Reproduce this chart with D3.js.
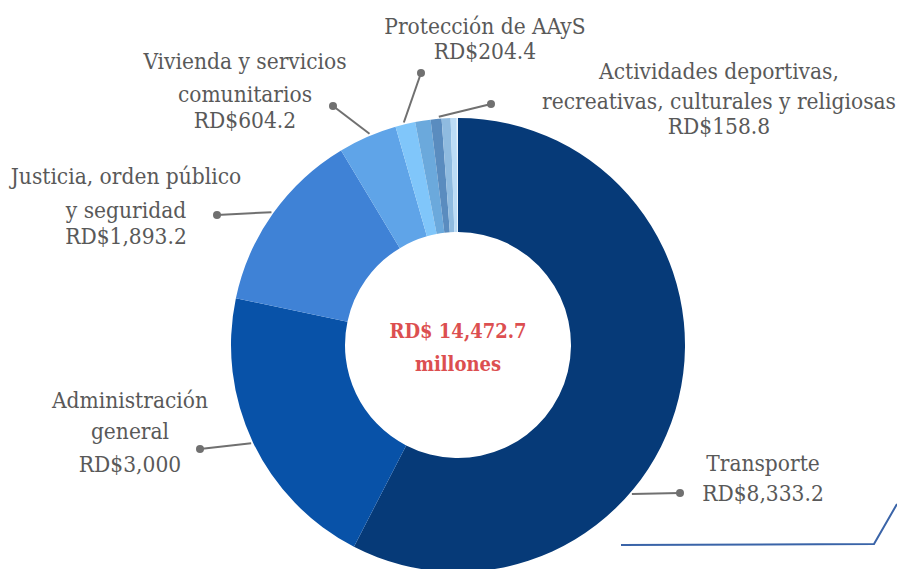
<!DOCTYPE html>
<html>
<head>
<meta charset="utf-8">
<script src="https://cdn.jsdelivr.net/npm/d3@7"></script>
<style>
  body { margin: 0; background: #fff; }
  svg { display: block; }
  .lbl { font-family: "DejaVu Serif Condensed", "DejaVu Serif", serif; font-size: 22.5px; fill: #595959; }
  .total { font-family: "DejaVu Serif Condensed", "DejaVu Serif", serif; font-size: 20px; font-weight: bold; fill: #dc4f50; }
</style>
</head>
<body>
<svg id="chart" width="897" height="569"></svg>
<script>
// slices, clockwise from 12 o'clock
let names = ['Transporte', 'Administración general', 'Justicia, orden público y seguridad',
    'Vivienda y servicios comunitarios', 'Protección de AAyS',
    'Actividades deportivas, recreativas, culturales y religiosas', 'Otro 1', 'Otro 2', 'Otro 3', 'Otro 4'];
let values = [8333.2, 3000, 1893.2, 604.2, 204.4, 158.8, 112, 92, 62, 12.9];
let colors = ['#063a78', '#0852a8', '#3f82d6', '#5fa4e8', '#80c6fa', '#6ba9dc', '#5a8cbf', '#8fbbe0', '#bcdcf6', '#e8f3fc'];
let totalLabel = ['RD$ 14,472.7', 'millones'];

// label text, line by line
let labelLines = [
    ['Transporte', 'RD$8,333.2'],
    ['Administración', 'general', 'RD$3,000'],
    ['Justicia, orden público', 'y seguridad', 'RD$1,893.2'],
    ['Vivienda y servicios', 'comunitarios', 'RD$604.2'],
    ['Protección de AAyS', 'RD$204.4'],
    ['Actividades deportivas,', 'recreativas, culturales y religiosas', 'RD$158.8']
];

function init() {
    let svg = d3.select('#chart');
    let cx = 458, cy = 345;
    let outer = 227, inner = 113;

    let pie = d3.pie().sort(null).value(d => d);
    let arcs = pie(values);
    let arc = d3.arc().innerRadius(inner).outerRadius(outer);

    let g = svg.append('g').attr('transform', `translate(${cx}, ${cy})`);
    g.selectAll('path').data(arcs).join('path')
        .attr('d', arc)
        .style('fill', (d, i) => colors[i]);

    // label layout: text centre x, baseline of each line, dot position, spot on the slice
    let layout = [
        { x: 763, ys: [471, 501], dot: [680, 493], t: 0.63 },
        { x: 130, ys: [408, 439, 472], dot: [200, 449], t: 0.5 },
        { x: 126, ys: [184, 218, 244], dot: [217, 215], t: 0.5 },
        { x: 245, ys: [69, 102, 128], dot: [333, 106], t: 0.55 },
        { x: 485, ys: [34, 59], dot: [421, 73], t: 0.45 },
        { x: 719, ys: [79, 109, 134], dot: [491, 104], t: 1.54 }
    ];

    let line = d3.line();
    layout.forEach((L, i) => {
        let a = arcs[i];
        let ang = a.startAngle + L.t * (a.endAngle - a.startAngle);
        let r = outer + 2;
        let p = [cx + r * Math.sin(ang), cy - r * Math.cos(ang)];
        svg.append('path')
            .attr('d', line([p, L.dot]))
            .attr('fill', 'none')
            .attr('stroke', '#707070')
            .attr('stroke-width', 2);
        svg.append('circle')
            .attr('cx', L.dot[0])
            .attr('cy', L.dot[1])
            .attr('r', 4)
            .style('fill', '#707070');
        svg.append('g').selectAll('text').data(labelLines[i]).join('text')
            .attr('class', 'lbl')
            .attr('x', L.x)
            .attr('y', (d, j) => L.ys[j])
            .attr('text-anchor', 'middle')
            .text(d => d);
    });

    svg.append('g').selectAll('text').data(totalLabel).join('text')
        .attr('class', 'total')
        .attr('x', cx)
        .attr('y', (d, j) => 338 + j * 33)
        .attr('text-anchor', 'middle')
        .text(d => d);

    // decorative frame line at the bottom right
    svg.append('path')
        .attr('d', line([[621, 545], [874, 544], [897, 504]]))
        .attr('fill', 'none')
        .attr('stroke', '#3a64a8')
        .attr('stroke-width', 2);
}

init();
</script>
</body>
</html>
